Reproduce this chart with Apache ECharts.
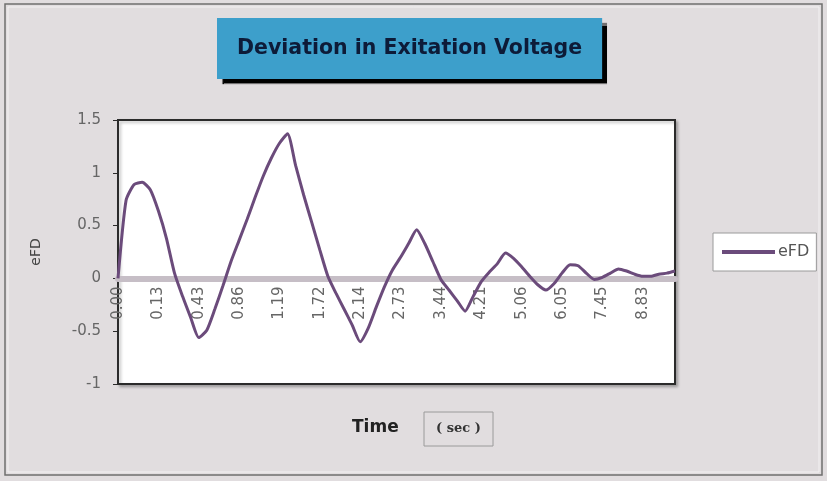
<!DOCTYPE html>
<html>
<head>
<meta charset="utf-8">
<title>Deviation in Exitation Voltage</title>
<script src="https://cdn.jsdelivr.net/npm/echarts@6.0.0/dist/echarts.min.js"></script>
<style>
  html, body { margin: 0; padding: 0; background: #e1dddf; }
  #chart { width: 827px; height: 481px; }
</style>
</head>
<body>
<div id="chart"></div>
<script>
// time stamps (sec) - only every 5th one gets a label on the axis
const times = [
  '0.00', '0.01', '0.03', '0.06', '0.09',
  '0.13', '0.18', '0.24', '0.30', '0.37',
  '0.43', '0.52', '0.61', '0.69', '0.78',
  '0.86', '0.93', '0.99', '1.06', '1.12',
  '1.19', '1.29', '1.40', '1.51', '1.61',
  '1.72', '1.80', '1.89', '1.97', '2.06',
  '2.14', '2.26', '2.38', '2.49', '2.61',
  '2.73', '2.87', '3.02', '3.16', '3.30',
  '3.44', '3.59', '3.75', '3.90', '4.06',
  '4.21', '4.38', '4.55', '4.72', '4.89',
  '5.06', '5.26', '5.46', '5.65', '5.85',
  '6.05', '6.33', '6.61', '6.89', '7.17',
  '7.45', '7.73', '8.00', '8.28', '8.55',
  '8.83', '9.10', '9.38', '9.65', '9.93'
];

// eFD
const efd = [
  0.00, 0.74, 0.89, 0.91, 0.84,
  0.64, 0.38, 0.05, -0.17, -0.37,
  -0.56, -0.49, -0.29, -0.07, 0.16,
  0.36, 0.56, 0.77, 0.97, 1.14,
  1.28, 1.37, 1.07, 0.79, 0.53,
  0.27, 0.02, -0.14, -0.29, -0.44,
  -0.60, -0.47, -0.27, -0.08, 0.08,
  0.20, 0.33, 0.46, 0.33, 0.16,
  -0.01, -0.11, -0.21, -0.31, -0.17,
  -0.03, 0.06, 0.14, 0.24, 0.19,
  0.11, 0.02, -0.06, -0.11, -0.05,
  0.05, 0.13, 0.12, 0.05, -0.01,
  0.01, 0.05, 0.09, 0.07, 0.04,
  0.02, 0.02, 0.04, 0.05, 0.07
];

const yMin = -1;
const yMax = 1.5;
const yStep = 0.5;
const labelEvery = 5;

const gridTop = 120;
const gridBottom = 97;
const chartHeight = 481;
// the category axis sits on y = 0 (labels included), so move it up from the bottom edge
const plotHeight = chartHeight - gridTop - gridBottom;
const zeroOffset = -((0 - yMin) / (yMax - yMin)) * plotHeight;

const chart = echarts.init(document.getElementById('chart'));

const option = {
  backgroundColor: '#e1dddf',
  animation: false,
  title: {
    text: 'Deviation in Exitation Voltage',
    left: 217,
    top: 18,
    padding: [20, 20],
    backgroundColor: '#3d9fcb',
    shadowColor: '#000',
    shadowBlur: 1,
    shadowOffsetX: 5,
    shadowOffsetY: 5,
    textStyle: {
      fontFamily: 'DejaVu Sans',
      fontWeight: 'bold',
      fontSize: 20.5,
      color: '#0d1b38'
    }
  },
  legend: {
    left: 713,
    top: 233,
    padding: [11, 7, 11, 9],
    backgroundColor: '#fff',
    borderColor: '#9a9a9a',
    borderWidth: 1,
    itemWidth: 53,
    itemHeight: 4,
    data: [{ name: 'eFD', icon: 'rect' }],
    textStyle: {
      fontFamily: 'DejaVu Sans',
      fontSize: 16,
      color: '#555',
      padding: [0, 0, 0, -2]
    }
  },
  grid: {
    left: 118,
    right: 152,
    top: gridTop,
    bottom: gridBottom,
    show: true,
    backgroundColor: '#fff',
    borderColor: '#2b2b2b',
    borderWidth: 2,
    shadowColor: 'rgba(0,0,0,0.25)',
    shadowBlur: 3,
    shadowOffsetX: 2,
    shadowOffsetY: 2
  },
  xAxis: {
    type: 'category',
    data: times,
    boundaryGap: false,
    offset: zeroOffset,
    z: 1,
    axisLine: {
      onZero: false,
      lineStyle: { color: '#c6bec6', width: 6 }
    },
    axisTick: { show: false },
    axisLabel: {
      interval: labelEvery - 1,
      rotate: 90,
      margin: 8,
      fontFamily: 'DejaVu Sans',
      fontSize: 15,
      color: '#666'
    },
    splitLine: { show: false }
  },
  yAxis: {
    type: 'value',
    min: yMin,
    max: yMax,
    interval: yStep,
    name: 'eFD',
    nameLocation: 'middle',
    nameRotate: 90,
    nameGap: 75,
    nameTextStyle: {
      fontFamily: 'DejaVu Sans',
      fontSize: 14,
      color: '#444'
    },
    axisLine: { show: true, lineStyle: { color: '#2b2b2b', width: 2 } },
    axisTick: { show: true, length: 5, lineStyle: { color: '#2b2b2b' } },
    axisLabel: {
      margin: 17,
      fontFamily: 'DejaVu Sans',
      fontSize: 15,
      color: '#666'
    },
    splitLine: { show: false }
  },
  series: [
    {
      name: 'eFD',
      type: 'line',
      data: efd,
      smooth: 0.2,
      symbol: 'none',
      z: 10,
      lineStyle: { color: '#6b4b7b', width: 3 },
      itemStyle: { color: '#6b4b7b' }
    }
  ],
  graphic: [
    // outer frame
    {
      type: 'rect',
      shape: { x: 5, y: 4, width: 817, height: 471 },
      style: { fill: 'none', stroke: '#6f6f6f', lineWidth: 1.5 },
      silent: true
    },
    {
      type: 'rect',
      shape: { x: 8, y: 7, width: 811, height: 465 },
      style: { fill: 'none', stroke: '#f3f1f2', lineWidth: 1 },
      silent: true
    },
    // x axis title
    {
      type: 'text',
      left: 352,
      top: 419,
      style: {
        text: 'Time',
        font: 'bold 17px "DejaVu Sans"',
        fill: '#222'
      }
    },
    {
      type: 'rect',
      shape: { x: 424, y: 412, width: 69, height: 34 },
      style: { fill: 'none', stroke: '#9a9a9a', lineWidth: 1 },
      silent: true
    },
    {
      type: 'text',
      x: 458.5,
      y: 429,
      style: {
        text: '( sec )',
        font: 'bold 13px "DejaVu Serif"',
        fill: '#333',
        align: 'center',
        verticalAlign: 'middle'
      }
    }
  ]
};

chart.setOption(option);
</script>
</body>
</html>
